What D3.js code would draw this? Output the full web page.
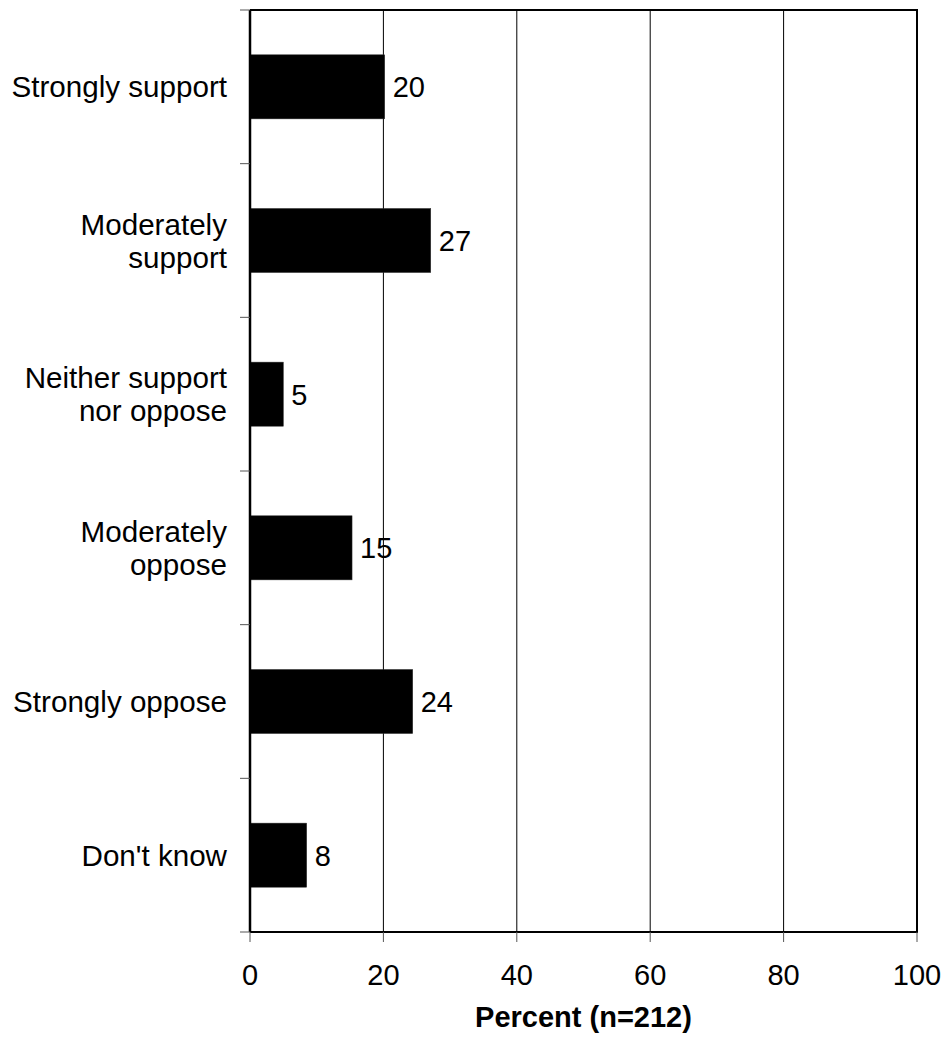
<!DOCTYPE html>
<html>
<head>
<meta charset="utf-8">
<script src="https://cdn.jsdelivr.net/npm/d3@7"></script>
<style>
  html, body { margin: 0; padding: 0; background: #fff; }
  svg { display: block; font-family: Arial, "Liberation Sans", sans-serif; }
</style>
</head>
<body>
<svg id="chart" width="945" height="1043"></svg>
<script>
// ---- data ----
const categories = [
  ["Strongly support"],
  ["Moderately", "support"],
  ["Neither support", "nor oppose"],
  ["Moderately", "oppose"],
  ["Strongly oppose"],
  ["Don't know"]
];
const values = [20.2, 27.1, 5.0, 15.3, 24.4, 8.5];
const valueLabels = ["20", "27", "5", "15", "24", "8"];
const xTicks = [0, 20, 40, 60, 80, 100];
const xTitle = "Percent (n=212)";

(function () {
// ---- layout ----
const svg = d3.select("#chart");
const pLeft = 250, pRight = 917, pTop = 10, pBottom = 932;
const fontSize = 29;
const catFontSize = 29.6;

const x = d3.scaleLinear().domain([0, 100]).range([pLeft, pRight]);
const keys = categories.map((c, i) => i);
const y = d3.scaleBand().domain(keys).range([pTop, pBottom]).paddingInner(0.583).paddingOuter(0.2915);
const yOuter = d3.scaleBand().domain(keys).range([pTop, pBottom]);

// gridlines
svg.append("g").selectAll("line")
  .data(xTicks.filter(t => t > 0 && t < 100))
  .join("line")
  .attr("x1", d => x(d)).attr("x2", d => x(d))
  .attr("y1", pTop).attr("y2", pBottom)
  .attr("stroke", "#000").attr("stroke-width", 1);

// bars
svg.append("g").selectAll("rect")
  .data(values)
  .join("rect")
  .attr("x", x(0))
  .attr("y", (d, i) => y(i))
  .attr("width", d => x(d) - x(0))
  .attr("height", y.bandwidth())
  .attr("fill", "#000")
  .attr("stroke", "#333").attr("stroke-width", 0.5);

// value labels
svg.append("g").selectAll("text")
  .data(values)
  .join("text")
  .attr("x", d => x(d) + 8)
  .attr("y", (d, i) => y(i) + y.bandwidth() / 2)
  .attr("dy", "0.36em")
  .attr("font-size", fontSize)
  .attr("fill", "#000")
  .text((d, i) => valueLabels[i]);

// frame: top, right, bottom
svg.append("path")
  .attr("d", `M${pLeft},${pTop}H${pRight}V${pBottom}H${pLeft}`)
  .attr("fill", "none").attr("stroke", "#000").attr("stroke-width", 2);

// left axis line
svg.append("line")
  .attr("x1", pLeft).attr("x2", pLeft).attr("y1", pTop).attr("y2", pBottom)
  .attr("stroke", "#000").attr("stroke-width", 2.5);

// left ticks at category boundaries
const boundaries = keys.map(k => yOuter(k)).concat([pBottom]);
svg.append("g").selectAll("line")
  .data(boundaries)
  .join("line")
  .attr("x1", pLeft - 10).attr("x2", pLeft)
  .attr("y1", d => d).attr("y2", d => d)
  .attr("stroke", "#555").attr("stroke-width", 1);

// bottom ticks
svg.append("g").selectAll("line")
  .data(xTicks)
  .join("line")
  .attr("x1", d => x(d)).attr("x2", d => x(d))
  .attr("y1", pBottom).attr("y2", pBottom + 10)
  .attr("stroke", "#555").attr("stroke-width", 1);

// x tick labels
svg.append("g").selectAll("text")
  .data(xTicks)
  .join("text")
  .attr("x", d => x(d))
  .attr("y", 985)
  .attr("text-anchor", "middle")
  .attr("font-size", fontSize)
  .attr("fill", "#000")
  .text(d => d);

// category labels
const lineH = 33;
const catG = svg.append("g");
categories.forEach((lines, i) => {
  const cy = yOuter(i) + yOuter.bandwidth() / 2;
  const t = catG.append("text")
    .attr("text-anchor", "end")
    .attr("font-size", catFontSize)
    .attr("fill", "#000");
  lines.forEach((ln, j) => {
    t.append("tspan")
      .attr("x", 227)
      .attr("y", cy + (j - (lines.length - 1) / 2) * lineH)
      .attr("dy", "0.36em")
      .text(ln);
  });
});

// x title
svg.append("text")
  .attr("x", (pLeft + pRight) / 2)
  .attr("y", 1027)
  .attr("text-anchor", "middle")
  .attr("font-size", fontSize)
  .attr("font-weight", "bold")
  .attr("fill", "#000")
  .text(xTitle);
})();
</script>
</body>
</html>
